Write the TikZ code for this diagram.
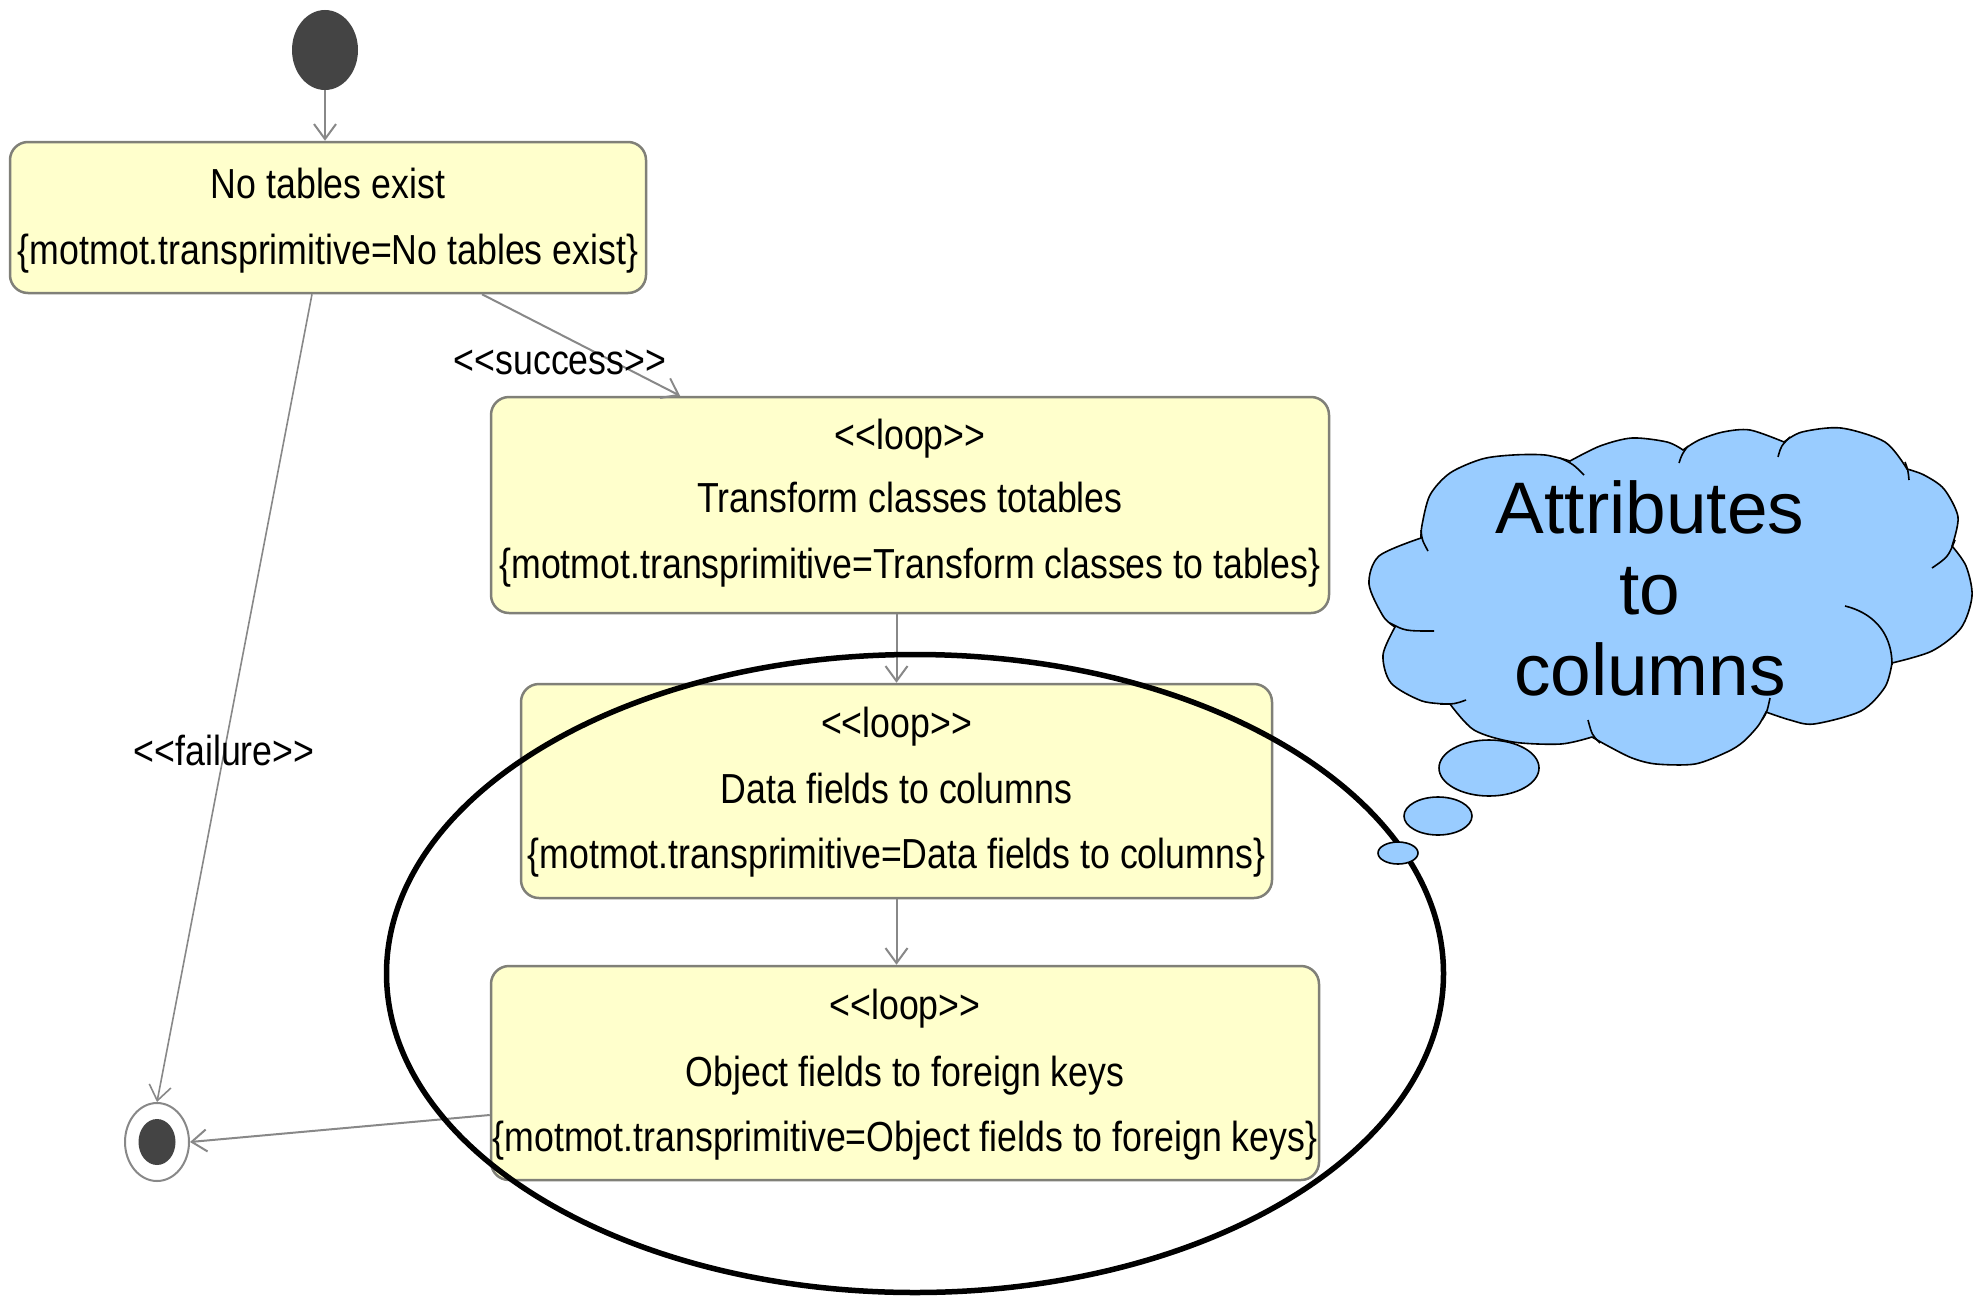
\documentclass[tikz,border=0pt]{standalone}
\usepackage{fontspec}
\setmainfont{Liberation Sans}
\newfontfamily\umlfont[FakeStretch=0.85]{Liberation Sans}
\usetikzlibrary{arrows.meta,shapes.geometric}
\definecolor{stateFill}{HTML}{FFFFCC}
\definecolor{stateLine}{RGB}{128,128,120}
\definecolor{dotFill}{RGB}{68,68,68}
\definecolor{flowLine}{RGB}{136,136,136}
\definecolor{cloudFill}{HTML}{99CCFF}

\begin{document}
\begin{tikzpicture}[x=1pt,y=-1pt,
  statebox/.style={draw=stateLine, fill=stateFill, line width=2.5pt, rounded corners=18pt, inner sep=0pt},
  umltext/.style={font=\umlfont\fontsize{42}{50}\selectfont, anchor=base, inner sep=0pt},
  flow/.style={draw=flowLine, line width=2pt, -{Straight Barb[length=15pt,width=22pt]}},
  thought/.style={draw=black, fill=cloudFill, line width=1.6pt},
  puffline/.style={draw=black, line width=1.6pt},
  cloudtext/.style={font=\fontsize{73}{81}\selectfont, anchor=base, inner sep=0pt}]

\useasboundingbox (0,0) rectangle (1975,1298);

% initial and final states
\node[ellipse, fill=dotFill, minimum width=66, minimum height=80, inner sep=0pt] (start) at (325,50) {};
\node[ellipse, draw=flowLine, line width=2pt, fill=white, minimum width=64, minimum height=78, inner sep=0pt] (end) at (157,1142) {};
\node[ellipse, fill=dotFill, minimum width=37, minimum height=46, inner sep=0pt] (endin) at (end.center) {};

% activity states
\node[statebox, minimum width=636, minimum height=151] (b1) at (328,217.5) {};
\node[umltext] (b1a) at (328,198) {No tables exist};
\node[umltext] (b1b) at (328,264) {\{motmot.transprimitive=No tables  exist\}};

\node[statebox, minimum width=838, minimum height=216] (b2) at (910,505) {};
\node[umltext] (b2a) at (910,449) {{<}{<}loop{>}{>}};
\node[umltext] (b2b) at (910,512) {Transform classes totables};
\node[umltext] (b2c) at (910,578) {\{motmot.transprimitive=Transform classes to tables\}};

\node[statebox, minimum width=751, minimum height=214] (b3) at (896.5,791) {};
\node[umltext] (b3a) at (896.5,737) {{<}{<}loop{>}{>}};
\node[umltext] (b3b) at (896.5,803) {Data fields to columns};
\node[umltext] (b3c) at (896.5,868) {\{motmot.transprimitive=Data  fields to columns\}};

\node[statebox, minimum width=828, minimum height=214] (b4) at (905,1073) {};
\node[umltext] (b4a) at (905,1019) {{<}{<}loop{>}{>}};
\node[umltext] (b4b) at (905,1086) {Object fields to foreign keys};
\node[umltext] (b4c) at (905,1151) {\{motmot.transprimitive=Object  fields to  foreign keys\}};

% transitions
\draw[flow] (start.south) -- (start.south |- b1.north);
\draw[flow] ([xshift=154pt]b1.south) -- ([xshift=-230pt]b2.north);
\node[umltext] (succ) at (560,374) {{<}{<}success{>}{>}};
\draw[flow, line width=1.6pt] ([xshift=-16pt]b1.south) -- (end.north);
\node[umltext] (fail) at (224,765) {{<}{<}failure{>}{>}};
\draw[flow] (b3.north |- b2.south) -- (b3.north);
\draw[flow] (b3.south) -- (b3.south |- b4.north);
\draw[flow] ([yshift=-42pt]b4.west) -- (end.east);

% highlighted region
\node[ellipse, draw=black, line width=5.5pt, minimum width=1057, minimum height=638, inner sep=0pt] (focus) at (915,973.5) {};

% thought cloud
\path[thought]
  plot[smooth] coordinates {(1421,538) (1379,556) (1369,584) (1383,616) (1395,627)}
  -- plot[smooth] coordinates {(1395,627) (1383,655) (1391,683) (1422,701) (1450,704)}
  -- plot[smooth] coordinates {(1450,704) (1474,730) (1513,742) (1561,744) (1592,737)}
  -- plot[smooth] coordinates {(1592,737) (1608,746) (1632,758) (1656,764) (1695,764) (1727,752) (1743,742) (1758,726) (1766,712)}
  -- plot[smooth] coordinates {(1766,712) (1790,720) (1814,724) (1861,711) (1885,687) (1892,663)}
  -- plot[smooth] coordinates {(1892,663) (1932,651) (1961,628) (1972,596) (1966,566) (1952,546)}
  -- plot[smooth] coordinates {(1952,546) (1958,517) (1944,489) (1924,475) (1907,469)}
  -- plot[smooth] coordinates {(1907,469) (1885,442) (1841,428) (1802,432) (1784,442)}
  -- plot[smooth] coordinates {(1784,442) (1750,430) (1723,432) (1699,440) (1683,450)}
  -- plot[smooth] coordinates {(1683,450) (1667,442) (1632,438) (1600,446) (1570,461)}
  -- plot[smooth] coordinates {(1570,461) (1545,455) (1513,455) (1482,459) (1450,473) (1430,495) (1422,525) (1421,538)}
  -- cycle;
\draw[puffline] (1421,530) .. controls (1422,540) .. (1428,551);
\draw[puffline] (1390,623) .. controls (1405,631) .. (1434,631);
\draw[puffline] (1440,704) .. controls (1455,704) .. (1466,700);
\draw[puffline] (1600,743) .. controls (1592,735) .. (1588,720);
\draw[puffline] (1762,720) .. controls (1767,712) .. (1770,698);
\draw[puffline] (1892,665) .. controls (1892,630) and (1870,612) .. (1845,606);
\draw[puffline] (1955,540) .. controls (1948,557) .. (1932,568);
\draw[puffline] (1905,462) .. controls (1908,470) .. (1909,480);
\draw[puffline] (1790,437) .. controls (1781,446) .. (1778,457);
\draw[puffline] (1688,446) .. controls (1682,454) .. (1679,463);
\draw[puffline] (1560,458) .. controls (1573,464) .. (1584,475);

\node[ellipse, thought, minimum width=100, minimum height=56, inner sep=0pt] (bub1) at (1489,768) {};
\node[ellipse, thought, minimum width=68, minimum height=38, inner sep=0pt] (bub2) at (1438,816) {};
\node[ellipse, thought, minimum width=40, minimum height=22, inner sep=0pt] (bub3) at (1398,853) {};

\node[cloudtext] (ct1) at (1650,533) {Attributes};
\node[cloudtext] (ct2) at (1650,614) {to};
\node[cloudtext] (ct3) at (1650,695) {columns};

\end{tikzpicture}
\end{document}
